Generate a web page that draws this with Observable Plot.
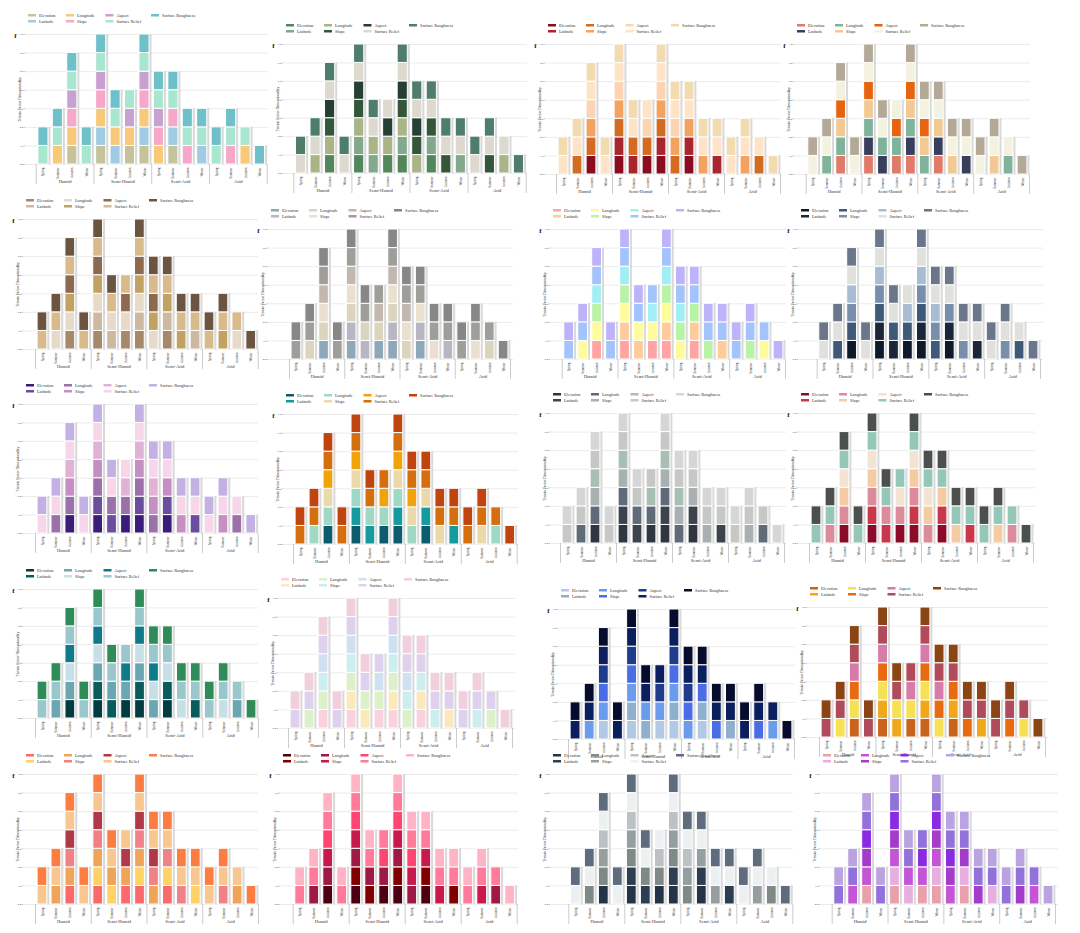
<!DOCTYPE html>
<html><head><meta charset="utf-8">
<script src="https://cdn.jsdelivr.net/npm/d3@7"></script>
<script src="https://cdn.jsdelivr.net/npm/@observablehq/plot@0.6"></script>
<style>
body{margin:0;background:#fff;}
#root{position:relative;width:1080px;height:933px;overflow:hidden;font-family:"Liberation Serif",serif;}
.panel{position:absolute;}
.legend{position:absolute;display:grid;grid-auto-flow:column;grid-template-rows:12px 12px;grid-template-columns:76px 79px 91px auto;transform:scale(0.5);transform-origin:0 0;font-size:8.6px;line-height:12px;color:#333;white-space:nowrap;}
.legend .sw{display:inline-block;width:16px;height:5px;margin-right:6px;vertical-align:middle;position:relative;top:-1px;}
</style></head><body><div id="root"></div><script>
// ---- data ----
const climates = ["Humid", "Semi-Humid", "Semi-Arid", "Arid"];
const seasons = ["Spring", "Summer", "Autumn", "Winter"];
const factors = ["Elevation", "Latitude", "Longitude", "Slope", "Aspect", "Surface Relief", "Surface Roughness"];
// factors present in each climate/season bar (indices into factors, bottom to top)
const humid     = [[5,6], [2,5,6], [0,2,3,4,5,6], [5,6]];
const semiHumid = [[0,1,2,3,4,5,6], [1,2,5,6], [0,2,4,5], [0,1,2,3,4,5,6]];
const semiArid  = [[2,3,4,5,6], [0,1,3,5,6], [3,5,6], [1,5,6]];
const arid      = [[5,6], [3,5,6], [2,5], [6]];
const yTicks = [0, 1, 2, 3, 4, 5, 6, 7];
const yLabel = "Terrain Factor Dimensionality";
const cornerMark = "f";

// ---- palettes (Elevation, Latitude, Longitude, Slope, Aspect, Surface Relief, Surface Roughness) ----
const palettes = [
  ["#c6c39b","#9fcbe3","#f7c978","#f7a8c9","#c9a1d1","#a9e6cf","#6fc1c9"],
  ["#52865b","#82a98b","#a9b487","#34573b","#263f33","#ddd9cf","#4f7d6b"],
  ["#8b0b20","#a9262f","#d46b22","#f4a260","#fcd3b3","#fee3c8","#f2dcaf"],
  ["#e07b6a","#393e5c","#7fb39b","#f2c893","#e8630f","#f3f1e0","#b3a996"],
  ["#a7886a","#cdb99f","#e7dac8","#c2a263","#8b6a50","#d8ba8b","#6b5441"],
  ["#8fa8b9","#b8b6c3","#dad5bc","#e9e0d0","#c3b8b0","#a09e9a","#878787"],
  ["#ffa3a3","#ffcb9b","#fdfb9c","#b9f3a8","#a1eff5","#a3c3fd","#bdb3fb"],
  ["#0e1a2a","#1b2639","#3f5978","#798eaa","#a8bcd3","#e0e1dd","#6b768a"],
  ["#3b1c7a","#6a4d9d","#9c70a8","#c68fc3","#e0b2d6","#f6d6e8","#c2b1e2"],
  ["#0b5c6c","#159a9d","#9fd8c5","#ead9a9","#f0a30b","#d46e0e","#c0440f"],
  ["#2f3640","#3c434c","#5f6b78","#a9b0b2","#a8bfb4","#c5c8c5","#d4d6d8"],
  ["#8c0b29","#c9374a","#dc8b9b","#f5cba1","#f3e3d2","#94c7b8","#4b504d"],
  ["#023c40","#0a5c5c","#6ca6b2","#c7e0e8","#0f7a8a","#9ac7cc","#2f8c58"],
  ["#f9d2de","#fbe8bb","#dcf0c9","#cdeeee","#cfe0f1","#ddd1ee","#f2cfdc"],
  ["#b2c9e6","#8fb0cd","#6b9bec","#4a6de5","#1f3b8c","#0b1f5e","#060c2d"],
  ["#c9621b","#f0a81a","#f5e153","#e86b11","#d87ba9","#b04b5b","#8b4514"],
  ["#fb6a6a","#ffd166","#f0a459","#f08189","#b03849","#f7c78f","#fb7d42"],
  ["#4a0010","#800000","#9e1a44","#c8194d","#ff4670","#ff7b99","#ffb4c6"],
  ["#253347","#2d3e51","#7f8a86","#969f9f","#bcc2c3","#ecf0f1","#5e6c7e"],
  ["#e8a1ab","#e5b0e0","#c455d6","#a43ccb","#8a2be2","#9371db","#b9a3e0"]
];

// ---- layout of each panel: frame left, first separator, last separator, frame right, top, bottom ----
const frames = [
  [25,35.7,266.7,268,34,164],[283,293.3,525.7,527,44,173],[545,556,780,781,44,174],[794,805.7,1029,1030,44,174],
  [23,35,257.7,258,219,349],[268,289,510,513,229,359],[550,561.7,785,786,229,359],[798,816.7,1040,1043,229,359],
  [23,35,257.7,258,404,533],[283,293,516.7,518,414,544],[550,560,784,786,413,543],[798,809,1033,1035,413,543],
  [23,35,258,258,589,718],[278,288,512,515,598,728],[558,568,794,795,609,739],[807,819,1045,1048,607,737],
  [23,35,258,258,774,904],[280,292.7,516.7,518,774,904],[550,568.3,792.3,793,774,904],[820,831.7,1055,1058,774,904]
];

// ---- derived tables ----
const groups = [humid, semiHumid, semiArid, arid];
const bars = [];
groups.forEach((g, k) => g.forEach((fs, s) => bars.push({i: k * seasons.length + s, climate: climates[k], season: seasons[s], fs})));
const segments = bars.flatMap(b => b.fs.map((f, j) => ({i: b.i, factor: factors[f], y1: j, y2: j + 1})));
const totals = bars.map(b => ({i: b.i, total: b.fs.length}));
const nBars = bars.length;
const barTicks = bars.map(b => b.i);
const sepTicks = d3.range(climates.length + 1).map(k => k * seasons.length - 0.5);
const climTicks = climates.map((c, k) => k * seasons.length + (seasons.length - 1) / 2);
const half = 0.35;

const root = document.getElementById("root");
const mL = 22, mR = 6, mT = 6, mB = 30;
const font = '"Liberation Serif", "Times New Roman", serif';

frames.forEach((fr, p) => {
  const [L, s0, s4, R, T, B] = fr;
  const u = (s4 - s0) / nBars;
  const xmin = -0.5 - (s0 - L) / u, xmax = nBars - 0.5 + (R - s4) / u;
  const chart = Plot.plot({
    width: (R - L) + mL + mR,
    height: (B - T) + mT + mB,
    marginLeft: mL, marginRight: mR, marginTop: mT, marginBottom: mB,
    style: {fontFamily: font, color: "#333", background: "transparent", overflow: "visible"},
    x: {domain: [xmin, xmax]},
    y: {domain: [0, d3.max(yTicks)]},
    color: {domain: factors, range: palettes[p]},
    marks: [
      Plot.gridY({ticks: yTicks, stroke: "#e2e2e2", strokeOpacity: 1, strokeWidth: 0.7}),
      Plot.axisY({ticks: yTicks, tickSize: 1.5, tickPadding: 1, fontSize: 2.6, stroke: "#888", strokeWidth: 0.5, label: null}),
      Plot.text([yLabel], {frameAnchor: "left", dx: -6, rotate: -90, textAnchor: "middle", lineAnchor: "middle", fontSize: 3.7, fill: "#333"}),
      Plot.axisX({ticks: sepTicks, tickSize: 20, tickFormat: () => "", stroke: "#aaa", strokeWidth: 0.6, label: null}),
      Plot.axisX({ticks: barTicks, tickSize: 0, tickPadding: 3, tickRotate: -90, fontSize: 3.3,
                  tickFormat: i => bars[i].season, label: null}),
      Plot.axisX({ticks: climTicks, tickSize: 0, tickPadding: 15, fontSize: 4.6,
                  tickFormat: (d, k) => climates[k], label: null}),
      Plot.rectY(totals, {x1: d => d.i - half, x2: d => d.i + half, y1: 0, y2: "total",
                          fill: "#cccccc", fillOpacity: 0.75, dx: 2.5}),
      Plot.rectY(segments, {x1: d => d.i - half, x2: d => d.i + half, y1: "y1", y2: "y2",
                            fill: "factor", stroke: "white", strokeWidth: 1}),
      Plot.text([cornerMark], {frameAnchor: "top-left", dx: -10, dy: 1, fontSize: 7, fontWeight: "bold", textAnchor: "middle", lineAnchor: "middle", fill: "#111"})
    ]
  });
  const div = document.createElement("div");
  div.className = "panel";
  div.style.left = (L - mL) + "px";
  div.style.top = (T - mT) + "px";
  div.append(chart);
  root.append(div);

  const lg = document.createElement("div");
  lg.className = "legend";
  lg.style.left = (L + 3) + "px";
  lg.style.top = (T - 22) + "px";
  factors.forEach((f, j) => {
    const it = document.createElement("div");
    const sw = document.createElement("span");
    sw.className = "sw";
    sw.style.background = palettes[p][j];
    it.append(sw, document.createTextNode(f));
    lg.append(it);
  });
  root.append(lg);
});
</script></body></html>
